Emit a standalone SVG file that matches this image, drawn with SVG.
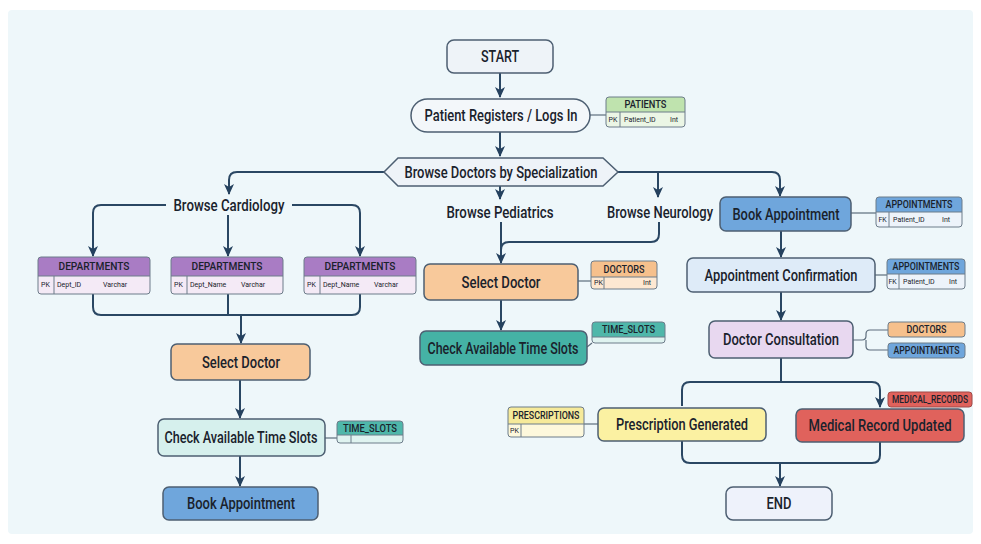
<svg xmlns="http://www.w3.org/2000/svg" width="981" height="544" viewBox="0 0 981 544">
<defs>
<marker id="arr" markerUnits="userSpaceOnUse" markerWidth="12" markerHeight="12" refX="10" refY="6" orient="auto">
<path d="M0,1 L11,6 L0,11 L3,6 z" fill="#24415e"/>
</marker>
<style>
.bg{fill:#eef7fa}
.n{stroke:#4d5f72;stroke-width:1.5}
.t{font-family:Roboto,"Liberation Sans",Arial,sans-serif;font-weight:500;font-size:16px;fill:#1a222c;text-anchor:middle;dominant-baseline:central}
.h{font-family:Roboto,"Liberation Sans",Arial,sans-serif;font-weight:500;font-size:10px;fill:#1a222c;text-anchor:middle;dominant-baseline:central}
.r{font-family:Roboto,"Liberation Sans",Arial,sans-serif;font-size:7px;fill:#1a222c;dominant-baseline:central}
.c{fill:none;stroke:#2a4763;stroke-width:2;marker-end:url(#arr)}
.cn{fill:none;stroke:#2a4763;stroke-width:2}
.l{fill:none;stroke:#5d6d7c;stroke-width:1.2}
.tb{fill:none;stroke:#6d7c8a;stroke-width:1}
</style>
</defs>
<rect x="0" y="0" width="981" height="544" fill="#ffffff"/>
<rect class="bg" x="8" y="10" width="965" height="524" rx="4"/>

<g id="connectors">
<path class="c" d="M500,73 V97"/>
<path class="c" d="M500,132 V156"/>
<path class="c" d="M384,172 H237 Q229,172 229,180 V194"/>
<path class="c" d="M500,186 V199"/>
<path class="c" d="M617,172 H772 Q780,172 780,180 V196"/>
<path class="c" d="M658,172 V197"/>
<path class="c" d="M166,205 H101 Q93,205 93,213 V256"/>
<path class="c" d="M292,205 H352 Q360,205 360,213 V256"/>
<path class="c" d="M228,215 V256"/>
<path class="cn" d="M93,294 V307 Q93,315 101,315 H352 Q360,315 360,307 V294"/>
<path class="cn" d="M228,294 V315"/>
<path class="c" d="M241,315 V343"/>
<path class="c" d="M240,380 V418"/>
<path class="c" d="M240,456 V486"/>
<path class="c" d="M501,222 V263"/>
<path class="cn" d="M659,222 V234 Q659,242 651,242 H509 Q501,242 501,250"/>
<path class="c" d="M501,300 V330"/>
<path class="c" d="M781,231 V257"/>
<path class="c" d="M781,292 V320"/>
<path class="cn" d="M781,358 V382"/>
<path class="c" d="M682,406 V390 Q682,382 690,382 H872 Q880,382 880,390 V407"/>
<path class="cn" d="M682,441 V455 Q682,463 690,463 H872 Q880,463 880,455 V442"/>
<path class="c" d="M780,463 V486"/>
<path class="l" d="M590,115 H606"/>
<path class="l" d="M578,281 H591"/>
<path class="l" d="M587,347 L592,343"/>
<path class="l" d="M325,438 H337"/>
<path class="l" d="M851,213 H876"/>
<path class="l" d="M875,275 H887"/>
<path class="l" d="M584,424 H598"/>
<path class="l" d="M853,340 H862 Q866,340 866,336 V334 Q866,330 870,330 H888 M866,340 V346 Q866,350 870,350 H888"/>
</g>

<g id="start"><rect class="n" x="447" y="40" width="106" height="33" rx="7" fill="#eef3f8"/><text class="t" x="500" y="56.5" textLength="38" lengthAdjust="spacingAndGlyphs">START</text></g>
<g id="register"><rect class="n" x="411" y="99" width="179" height="33" rx="16.5" fill="#f3f7fa"/><text class="t" x="501" y="115.5" textLength="153" lengthAdjust="spacingAndGlyphs">Patient Registers / Logs In</text></g>
<g id="patients-table"><rect x="606" y="97" width="79" height="30" rx="3" fill="#ebf6e5"/><path d="M606,112 V100 Q606,97 609,97 H682 Q685,97 685,100 V112 z" fill="#bfe3ae"/><rect class="tb" x="606" y="97" width="79" height="30" rx="3"/><path class="tb" d="M606,112 H685 M620,112 V127"/><text class="h" x="645.5" y="104.5" textLength="42" lengthAdjust="spacingAndGlyphs">PATIENTS</text><text class="r" x="608.5" y="119.5">PK</text><text class="r" x="624" y="119.5">Patient_ID</text><text class="r" x="670" y="119.5">Int</text></g>
<g id="browse"><polygon class="n" points="384,172 398,158 603,158 618,172 603,186 398,186" fill="#eef3f8"/><text class="t" x="501" y="172" textLength="193" lengthAdjust="spacingAndGlyphs">Browse Doctors by Specialization</text></g>
<g id="browse-cardiology"><text class="t" x="229" y="205" textLength="111" lengthAdjust="spacingAndGlyphs">Browse Cardiology</text></g>
<g id="browse-pediatrics"><text class="t" x="500" y="212" textLength="107" lengthAdjust="spacingAndGlyphs">Browse Pediatrics</text></g>
<g id="browse-neurology"><text class="t" x="660" y="212" textLength="106" lengthAdjust="spacingAndGlyphs">Browse Neurology</text></g>

<g id="dept1"><rect x="38" y="257" width="112" height="37" rx="3" fill="#f4eaf6"/><path d="M38,276 V260 Q38,257 41,257 H147 Q150,257 150,260 V276 z" fill="#a97cc4"/><rect class="tb" x="38" y="257" width="112" height="37" rx="3"/><path class="tb" d="M38,276 H150 M54,276 V294"/><text class="h" x="94" y="266.5" textLength="71" lengthAdjust="spacingAndGlyphs">DEPARTMENTS</text><text class="r" x="41" y="285" font-size="8">PK</text><text class="r" x="57" y="285" font-size="8">Dept_ID</text><text class="r" x="103" y="285" font-size="8">Varchar</text></g>
<g id="dept2"><rect x="171" y="257" width="112" height="37" rx="3" fill="#f4eaf6"/><path d="M171,276 V260 Q171,257 174,257 H280 Q283,257 283,260 V276 z" fill="#a97cc4"/><rect class="tb" x="171" y="257" width="112" height="37" rx="3"/><path class="tb" d="M171,276 H283 M187,276 V294"/><text class="h" x="227" y="266.5" textLength="71" lengthAdjust="spacingAndGlyphs">DEPARTMENTS</text><text class="r" x="174" y="285" font-size="8">PK</text><text class="r" x="190" y="285" font-size="8">Dept_Name</text><text class="r" x="241" y="285" font-size="8">Varchar</text></g>
<g id="dept3"><rect x="304" y="257" width="112" height="37" rx="3" fill="#f4eaf6"/><path d="M304,276 V260 Q304,257 307,257 H413 Q416,257 416,260 V276 z" fill="#a97cc4"/><rect class="tb" x="304" y="257" width="112" height="37" rx="3"/><path class="tb" d="M304,276 H416 M320,276 V294"/><text class="h" x="360" y="266.5" textLength="71" lengthAdjust="spacingAndGlyphs">DEPARTMENTS</text><text class="r" x="307" y="285" font-size="8">PK</text><text class="r" x="323" y="285" font-size="8">Dept_Name</text><text class="r" x="374" y="285" font-size="8">Varchar</text></g>

<g id="select-doctor-left"><rect class="n" x="171" y="344" width="139" height="36" rx="6" fill="#f8c99b"/><text class="t" x="241" y="362" textLength="78" lengthAdjust="spacingAndGlyphs">Select Doctor</text></g>
<g id="check-slots-left"><rect class="n" x="158" y="419" width="167" height="37" rx="6" fill="#d6f0ed"/><text class="t" x="241" y="437.5" textLength="153" lengthAdjust="spacingAndGlyphs">Check Available Time Slots</text></g>
<g id="timeslots-left"><rect x="337" y="421" width="66" height="22" rx="3" fill="#dff3f0"/><path d="M337,435 V424 Q337,421 340,421 H400 Q403,421 403,424 V435 z" fill="#4fb7aa"/><rect class="tb" x="337" y="421" width="66" height="22" rx="3"/><path class="tb" d="M337,435 H403 M351,435 V443"/><text class="h" x="370" y="428" font-size="8.5" textLength="54" lengthAdjust="spacingAndGlyphs">TIME_SLOTS</text></g>
<g id="book-left"><rect class="n" x="163" y="487" width="155" height="33" rx="6" fill="#6fa6dc"/><text class="t" x="241" y="503.5" textLength="108" lengthAdjust="spacingAndGlyphs">Book Appointment</text></g>

<g id="select-doctor-mid"><rect class="n" x="424" y="264" width="154" height="36" rx="6" fill="#f8c99b"/><text class="t" x="501" y="282" textLength="79" lengthAdjust="spacingAndGlyphs">Select Doctor</text></g>
<g id="doctors-table"><rect x="591" y="261" width="66" height="28" rx="3" fill="#fde8d2"/><path d="M591,277 V264 Q591,261 594,261 H654 Q657,261 657,264 V277 z" fill="#f6c08c"/><rect class="tb" x="591" y="261" width="66" height="28" rx="3"/><path class="tb" d="M591,277 H657 M604,277 V289"/><text class="h" x="624" y="269" textLength="41" lengthAdjust="spacingAndGlyphs">DOCTORS</text><text class="r" x="594" y="283">PK</text><text class="r" x="643" y="283">Int</text></g>
<g id="check-slots-mid"><rect class="n" x="420" y="331" width="167" height="34" rx="6" fill="#45b2a5"/><text class="t" x="503" y="348" textLength="151" lengthAdjust="spacingAndGlyphs">Check Available Time Slots</text></g>
<g id="timeslots-mid"><rect x="592" y="322" width="73" height="21" rx="3" fill="#dff3f0"/><path d="M592,337 V325 Q592,322 595,322 H662 Q665,322 665,325 V337 z" fill="#4fb7aa"/><rect class="tb" x="592" y="322" width="73" height="21" rx="3"/><path class="tb" d="M592,337 H665"/><text class="h" x="628.5" y="329.5" font-size="9" textLength="53" lengthAdjust="spacingAndGlyphs">TIME_SLOTS</text></g>

<g id="book-right"><rect class="n" x="720" y="197" width="131" height="34" rx="6" fill="#6fa6dc"/><text class="t" x="786" y="214" textLength="107" lengthAdjust="spacingAndGlyphs">Book Appointment</text></g>
<g id="appointments-1"><rect x="876" y="197" width="86" height="30" rx="3" fill="#edf3fa"/><path d="M876,212 V200 Q876,197 879,197 H959 Q962,197 962,200 V212 z" fill="#6fa6dc"/><rect class="tb" x="876" y="197" width="86" height="30" rx="3"/><path class="tb" d="M876,212 H962 M889,212 V227"/><text class="h" x="919" y="204.5" textLength="67" lengthAdjust="spacingAndGlyphs">APPOINTMENTS</text><text class="r" x="878.5" y="219.5">FK</text><text class="r" x="893" y="219.5">Patient_ID</text><text class="r" x="942" y="219.5">Int</text></g>
<g id="confirmation"><rect class="n" x="687" y="258" width="188" height="34" rx="6" fill="#deebf8"/><text class="t" x="781" y="275" textLength="153" lengthAdjust="spacingAndGlyphs">Appointment Confirmation</text></g>
<g id="appointments-2"><rect x="887" y="259" width="78" height="30" rx="3" fill="#edf3fa"/><path d="M887,274 V262 Q887,259 890,259 H962 Q965,259 965,262 V274 z" fill="#6fa6dc"/><rect class="tb" x="887" y="259" width="78" height="30" rx="3"/><path class="tb" d="M887,274 H965 M899,274 V289"/><text class="h" x="926" y="266.5" textLength="67" lengthAdjust="spacingAndGlyphs">APPOINTMENTS</text><text class="r" x="888.5" y="281.5">FK</text><text class="r" x="903" y="281.5">Patient_ID</text><text class="r" x="949" y="281.5">Int</text></g>
<g id="consultation"><rect class="n" x="709" y="321" width="144" height="37" rx="6" fill="#e8d8f0"/><text class="t" x="781" y="339.5" textLength="116" lengthAdjust="spacingAndGlyphs">Doctor Consultation</text></g>
<g id="doctors-label"><rect x="888" y="322" width="77" height="15" rx="3" fill="#f6c08c" stroke="#6d7c8a" stroke-width="1"/><text class="h" x="926.5" y="329.5" textLength="40" lengthAdjust="spacingAndGlyphs">DOCTORS</text></g>
<g id="appointments-label"><rect x="888" y="343" width="77" height="15" rx="3" fill="#6fa6dc" stroke="#6d7c8a" stroke-width="1"/><text class="h" x="926.5" y="350.5" textLength="66" lengthAdjust="spacingAndGlyphs">APPOINTMENTS</text></g>

<g id="prescription"><rect class="n" x="598" y="408" width="168" height="33" rx="6" fill="#fbf1a2"/><text class="t" x="682" y="424.5" textLength="132" lengthAdjust="spacingAndGlyphs">Prescription Generated</text></g>
<g id="prescriptions-table"><rect x="508" y="407" width="76" height="30" rx="3" fill="#fdf8dc"/><path d="M508,424 V410 Q508,407 511,407 H581 Q584,407 584,410 V424 z" fill="#f6ea9a"/><rect class="tb" x="508" y="407" width="76" height="30" rx="3"/><path class="tb" d="M508,424 H584 M521,424 V437"/><text class="h" x="546" y="415.5" textLength="67" lengthAdjust="spacingAndGlyphs">PRESCRIPTIONS</text><text class="r" x="510" y="430.5">PK</text></g>
<g id="medical-record"><rect class="n" x="796" y="409" width="168" height="33" rx="6" fill="#e0625c"/><text class="t" x="880" y="425.5" textLength="143" lengthAdjust="spacingAndGlyphs">Medical Record Updated</text></g>
<g id="medical-records-label"><rect x="888" y="392" width="84" height="15" rx="3" fill="#e0625c" stroke="#a04a48" stroke-width="1"/><text class="h" x="930" y="399.5" font-size="8.5" textLength="76" lengthAdjust="spacingAndGlyphs">MEDICAL_RECORDS</text></g>
<g id="end"><rect class="n" x="726" y="487" width="106" height="33" rx="7" fill="#eef2fb"/><text class="t" x="779" y="503.5" textLength="25" lengthAdjust="spacingAndGlyphs">END</text></g>
</svg>
